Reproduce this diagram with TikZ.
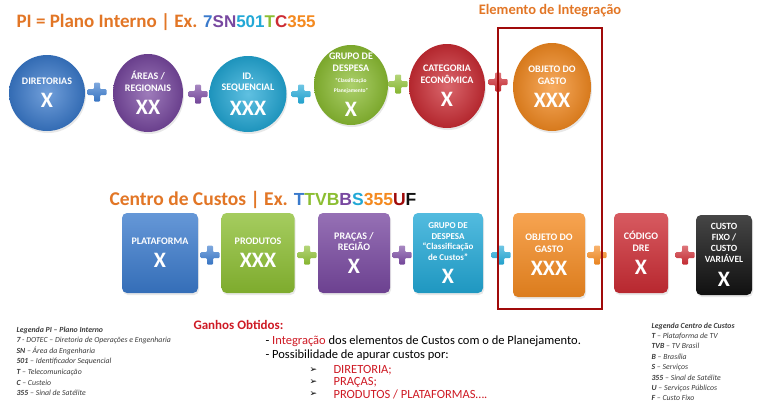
\documentclass[tikz,border=0pt]{standalone}
\usepackage{fontspec}
\setmainfont{Carlito}
\newfontfamily\codefont{Liberation Sans}
\newfontfamily\symfont{DejaVu Sans}
\usetikzlibrary{shapes.geometric,shadows}
\definecolor{cblue}{RGB}{58,122,204}
\definecolor{cpurple}{RGB}{120,72,160}
\definecolor{ccyan}{RGB}{34,168,214}
\definecolor{cgreen}{RGB}{140,190,50}
\definecolor{cred}{RGB}{204,44,52}
\definecolor{corange}{RGB}{244,138,32}
\definecolor{cblack}{RGB}{18,18,18}
\definecolor{ctitle}{RGB}{226,118,38}
\definecolor{cframe}{RGB}{160,10,10}
\definecolor{cgain}{RGB}{206,26,36}
\definecolor{clegend}{RGB}{60,60,60}
\newcommand\bigx{\fontsize{22}{22}\selectfont}
\newcommand\tinyl{\fontsize{5.5}{6}\selectfont}
\tikzset{
  pics/plus/.style={code={
    \path[top color=#1!65!white, bottom color=#1!95!black, rounded corners=1pt]
      (-9.5,-3) -- (-3,-3) -- (-3,-9.5) -- (3,-9.5) -- (3,-3) -- (9.5,-3)
      -- (9.5,3) -- (3,3) -- (3,9.5) -- (-3,9.5) -- (-3,3) -- (-9.5,3) -- cycle;
  }}
}
\begin{document}
\begin{tikzpicture}[x=1pt,y=-1pt,
ball/.style={
	ellipse, inner sep=0pt, draw=none,
	inner color=#1!72!white, outer color=#1!88!black,
	drop shadow={opacity=.18, shadow xshift=1pt, shadow yshift=-2pt}
},
card/.style={
	rectangle, rounded corners=5pt, inner sep=0pt, draw=none,
	top color=#1!78!white, bottom color=#1!90!black,
	drop shadow={opacity=.18, shadow xshift=1pt, shadow yshift=-2pt}
},
lbl/.style={text=white, align=center, font=\fontsize{10}{11.5}\selectfont\bfseries},
legend/.style={anchor=north west, align=left, text=clegend, font=\fontsize{7.8}{10.6}\selectfont\itshape},
gain/.style={anchor=west, font=\fontsize{12.5}{14}\selectfont}
]
\useasboundingbox (0,0) rectangle (757,410);
% titles
\node[anchor=west, text=ctitle, font=\fontsize{19}{19}\selectfont\bfseries] (pi) at (13,22)
	{PI = Plano Interno | Ex. {\codefont\fontsize{17}{17}\selectfont\color{cblue}7\color{cpurple}SN\color{ccyan}501\color{cgreen}T\color{cred}C\color{corange}355}};
\node[text=ctitle, font=\fontsize{14.5}{15}\selectfont\bfseries] (elem) at (550,11) {Elemento de Integração};
\node[anchor=west, text=ctitle, font=\fontsize{19.5}{19}\selectfont\bfseries] (cc) at (106,200)
	{Centro de Custos | Ex. {\codefont\fontsize{17.5}{17}\selectfont\color{cblue}T\color{cgreen}TVB\color{cpurple}B\color{ccyan}S\color{corange}355\color{cframe}U\color{cblack}F}};
% plano interno
\node[ball=cblue, minimum width=76pt, minimum height=76pt] (dir) at (47,93) {};
\node[ball=cpurple, minimum width=70pt, minimum height=78pt] (are) at (148,93) {};
\node[ball=ccyan, minimum width=77pt, minimum height=76pt] (seq) at (248,94) {};
\node[ball=cgreen, minimum width=74pt, minimum height=80pt] (grp) at (351,85) {};
\node[ball=cred, minimum width=76pt, minimum height=84pt] (cat) at (447,86) {};
\node[ball=corange, minimum width=78pt, minimum height=88pt] (obj) at (552,87) {};
\node[lbl] (dir-t) at (dir) {DIRETORIAS\\[8pt]{\bigx X}};
\node[lbl] (are-t) at (are) {ÁREAS /\\REGIONAIS\\[8pt]{\bigx XX}};
\node[lbl] (seq-t) at (seq) {ID.\\SEQUENCIAL\\[8pt]{\bigx XXX}};
\node[lbl] (grp-t) at (grp) {GRUPO DE\\DESPESA\\{\tinyl “Classificação}\\[-2pt]{\tinyl Planejamento”}\\[8pt]{\bigx X}};
\node[lbl] (cat-t) at (cat) {CATEGORIA\\ECONÔMICA\\[8pt]{\bigx X}};
\node[lbl] (obj-t) at (obj) {OBJETO DO\\GASTO\\[8pt]{\bigx XXX}};
\foreach \px/\py/\pc in {97/92/cblue, 198/94/cpurple, 301/94/ccyan, 398/84/cgreen, 498/82/cred}
	\pic at (\px,\py) {plus=\pc};
% centro de custos
\node[card=cblue, minimum width=76pt, minimum height=80pt] (plat) at (160,253) {};
\node[card=cgreen, minimum width=73pt, minimum height=80pt] (prod) at (258,253) {};
\node[card=cpurple, minimum width=72pt, minimum height=80pt] (pra) at (354,253) {};
\node[card=ccyan, minimum width=70pt, minimum height=80pt] (grp2) at (448,253) {};
\node[card=corange, minimum width=72pt, minimum height=84pt] (obj2) at (549,255) {};
\node[card=cred, minimum width=54pt, minimum height=80pt] (dre) at (641,253) {};
\node[card=cblack, minimum width=56pt, minimum height=80pt] (cus) at (724,255) {};
\node[lbl] (plat-t) at (plat) {PLATAFORMA\\[8pt]{\bigx X}};
\node[lbl] (prod-t) at (prod) {PRODUTOS\\[8pt]{\bigx XXX}};
\node[lbl] (pra-t) at (pra) {PRAÇAS /\\REGIÃO\\[8pt]{\bigx X}};
\node[lbl, font=\fontsize{9}{10.5}\selectfont\bfseries] (grp2-t) at (grp2) {GRUPO DE\\DESPESA\\“Classificação\\de Custos”\\[8pt]{\bigx X}};
\node[lbl] (obj2-t) at (obj2) {OBJETO DO\\GASTO\\[8pt]{\bigx XXX}};
\node[lbl] (dre-t) at (dre) {CÓDIGO\\DRE\\[8pt]{\bigx X}};
\node[lbl, font=\fontsize{9.5}{11}\selectfont\bfseries] (cus-t) at (cus) {CUSTO\\FIXO /\\CUSTO\\VARIÁVEL\\[8pt]{\bigx X}};
\foreach \px/\pc in {210/cblue, 307/cgreen, 402/cpurple, 501/ccyan, 597/corange, 685/cred}
	\pic at (\px,255) {plus=\pc};
% elemento de integracao
\draw[cframe, line width=2.5pt] (498,28) rectangle (602,309);
% legendas
\node[legend] (leg-pi) at (13,323) {\textbf{Legenda PI – Plano Interno}\\
	\textbf{7} - DOTEC – Diretoria de Operações e Engenharia\\
	\textbf{SN} – Área da Engenharia\\
	\textbf{501} – Identificador Sequencial\\
	\textbf{T} – Telecomunicação\\
	\textbf{C} – Custeio\\
	\textbf{355} – Sinal de Satélite};
\node[legend, font=\fontsize{7.8}{10.4}\selectfont\itshape] (leg-cc) at (648,319) {\textbf{Legenda Centro de Custos}\\
	\textbf{T} – Plataforma de TV\\
	\textbf{TVB} – TV Brasil\\
	\textbf{B} – Brasília\\
	\textbf{S} – Serviços\\
	\textbf{355} – Sinal de Satélite\\
	\textbf{U} – Serviços Públicos\\
	\textbf{F} – Custo Fixo};
% ganhos
\node[gain, text=cgain, font=\fontsize{13}{14}\selectfont\bfseries] (gan) at (190,325) {Ganhos Obtidos:};
\node[gain] (g1) at (262,341) {- \textcolor{cgain}{Integração} dos elementos de Custos com o de Planejamento.};
\node[gain] (g2) at (262,355) {- Possibilidade de apurar custos por:};
\foreach \i/\y/\t in {1/370/{DIRETORIA;}, 2/382/{PRAÇAS;}, 3/394/{PRODUTOS / PLATAFORMAS….}}
{
	\node[gain, font=\fontsize{9}{9}\selectfont\symfont] (b\i) at (306,\y) {➢};
	\node[gain, text=cgain] (it\i) at (330,\y) {\t};
}
\end{tikzpicture}
\end{document}
